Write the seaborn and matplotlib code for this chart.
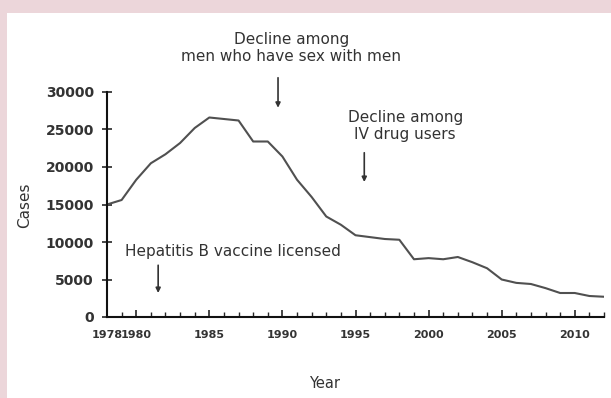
import matplotlib
matplotlib.use('Agg')
import matplotlib.pyplot as plt
import seaborn as sns
import pandas as pd
from matplotlib.patches import Rectangle
from matplotlib.ticker import MultipleLocator

# Data
years = list(range(1978, 2013))
cases = [15000, 15600, 18300, 20500, 21700, 23200, 25200, 26600, 26400, 26200,
         23400, 23400, 21400, 18300, 16000, 13400, 12300, 10900, 10650, 10400,
         10300, 7700, 7850, 7700, 8000, 7300, 6500, 5000, 4550, 4400,
         3850, 3200, 3200, 2800, 2700]
xtick_years = [1978, 1980, 1985, 1990, 1995, 2000, 2005, 2010]
ytick_values = [0, 5000, 10000, 15000, 20000, 25000, 30000]

# annotations: (text, text position, arrow tip, arrow tail)
notes = [
    ("Decline among\nmen who have sex with men", (1990.6, 35900), (1989.7, 27900), (1989.7, 31900)),
    ("Decline among\nIV drug users", (1998.4, 25500), (1995.6, 18000), (1995.6, 21900)),
    ("Hepatitis B vaccine licensed", (1986.6, 8700), (1981.5, 3200), (1981.5, 6900)),
]

sns.set_style('ticks')
plt.rcParams['font.family'] = ['DejaVu Sans']
text_color = '#333333'

df = pd.DataFrame({'Year': years, 'Cases': cases})

fig = plt.figure(figsize=(6.11, 3.98), dpi=100)
fig.patch.set_facecolor('#ecd6da')
fig.patches.append(Rectangle((7 / 611, 0), 1, 1 - 13 / 398, transform=fig.transFigure,
                             facecolor='white', edgecolor='none', zorder=-10))

ax = fig.add_axes([107 / 611, 1 - 317 / 398, (604 - 107) / 611, (317 - 92) / 398])
ax.set_facecolor('none')

sns.lineplot(data=df, x='Year', y='Cases', ax=ax, color='#505050', linewidth=1.5)

ax.set_xlim(1978, 2012)
ax.set_ylim(0, 30000)
ax.set_xticks(xtick_years)
ax.xaxis.set_minor_locator(MultipleLocator(1))
ax.set_yticks(ytick_values)

sns.despine(ax=ax)
for side in ['left', 'bottom']:
    ax.spines[side].set_linewidth(1.5)
    ax.spines[side].set_color('#111111')

ax.tick_params(axis='x', which='major', direction='in', length=5, width=1.2,
               labelsize=8, pad=9, labelcolor=text_color)
ax.tick_params(axis='x', which='minor', direction='in', length=3.5, width=1.0)
ax.tick_params(axis='y', direction='inout', length=7, width=1.2,
               labelsize=10, pad=6, labelcolor=text_color)
for lab in ax.get_xticklabels() + ax.get_yticklabels():
    lab.set_fontweight('bold')

ax.set_xlabel('Year', fontsize=10.5, color=text_color)
ax.xaxis.set_label_coords((325 - 107) / 497, -(376 - 317) / 225)
ax.set_ylabel('Cases', fontsize=11, color=text_color)
ax.yaxis.set_label_coords(-(107 - 32) / 497, (317 - 205) / 225)

for text, pos, tip, tail in notes:
    ax.text(pos[0], pos[1], text, ha='center', va='center', fontsize=11,
            color=text_color, linespacing=1.15, clip_on=False)
    ax.annotate('', xy=tip, xytext=tail, annotation_clip=False,
                arrowprops=dict(arrowstyle='-|>', color='#333333', lw=1.2,
                                mutation_scale=7, shrinkA=0, shrinkB=0))

plt.savefig('out.png', dpi=100, facecolor=fig.get_facecolor())
